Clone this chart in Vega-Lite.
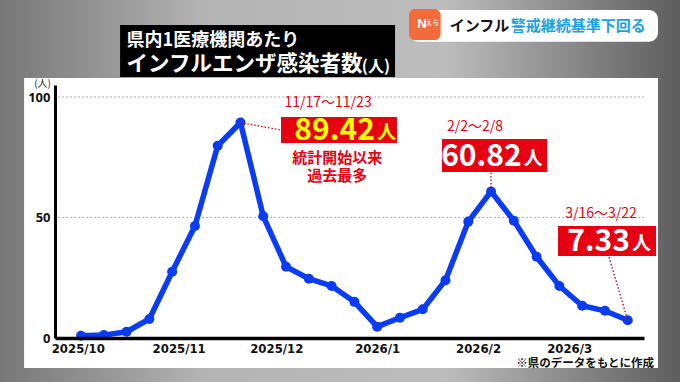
{
  "$schema": "https://vega.github.io/schema/vega-lite/v6.json",
  "autosize": {"type": "none"},
  "width": 589,
  "height": 253,
  "padding": {"left": 55, "top": 85, "right": 36, "bottom": 44},
  "background": "#9a9a9a",
  "config": {"view": {"stroke": null}, "font": "Noto Sans CJK JP"},
  "datasets": {
    "flu": [
      {"week": "9/29～10/5", "date": "2025-10-02", "value": 0.9},
      {"week": "10/6～10/12", "date": "2025-10-09", "value": 1.2},
      {"week": "10/13～10/19", "date": "2025-10-16", "value": 2.6},
      {"week": "10/20～10/26", "date": "2025-10-23", "value": 7.9},
      {"week": "10/27～11/2", "date": "2025-10-30", "value": 27.5},
      {"week": "11/3～11/9", "date": "2025-11-06", "value": 46.5},
      {"week": "11/10～11/16", "date": "2025-11-13", "value": 79.8},
      {"week": "11/17～11/23", "date": "2025-11-20", "value": 89.42},
      {"week": "11/24～11/30", "date": "2025-11-27", "value": 50.5},
      {"week": "12/1～12/7", "date": "2025-12-04", "value": 29.6},
      {"week": "12/8～12/14", "date": "2025-12-11", "value": 24.6},
      {"week": "12/15～12/21", "date": "2025-12-18", "value": 21.6},
      {"week": "12/22～12/28", "date": "2025-12-25", "value": 15.0},
      {"week": "12/29～1/4", "date": "2026-01-01", "value": 4.7},
      {"week": "1/5～1/11", "date": "2026-01-08", "value": 8.4},
      {"week": "1/12～1/18", "date": "2026-01-15", "value": 11.9},
      {"week": "1/19～1/25", "date": "2026-01-22", "value": 24.0},
      {"week": "1/26～2/1", "date": "2026-01-29", "value": 48.3},
      {"week": "2/2～2/8", "date": "2026-02-05", "value": 60.82},
      {"week": "2/9～2/15", "date": "2026-02-12", "value": 48.7},
      {"week": "2/16～2/22", "date": "2026-02-19", "value": 33.7},
      {"week": "2/23～3/1", "date": "2026-02-26", "value": 21.6},
      {"week": "3/2～3/8", "date": "2026-03-05", "value": 13.4},
      {"week": "3/9～3/15", "date": "2026-03-12", "value": 11.3},
      {"week": "3/16～3/22", "date": "2026-03-19", "value": 7.33}
    ],
    "gridlines": [{"v": 50}, {"v": 100}]
  },
  "layer": [
    {
      "data": {"values": [{}]},
      "mark": {"type": "rect", "fill": {"gradient": "linear", "x1": 0, "x2": 1, "y1": 0, "y2": 0, "stops": [{"offset": 0, "color": "#777777"}, {"offset": 0.3, "color": "#b4b4b4"}, {"offset": 0.65, "color": "#bdbdbd"}, {"offset": 1, "color": "#5c5c5c"}]}},
      "encoding": {
        "x": {"datum": {"year": 2025, "month": 9, "date": 7, "utc": true}, "type": "temporal"},
        "x2": {"datum": {"year": 2026, "month": 4, "date": 5, "utc": true}},
        "y": {"datum": 141, "type": "quantitative"},
        "y2": {"datum": -19}
      }
    },
    {
      "data": {"values": [{}]},
      "mark": {"type": "rect", "fill": "#ffffff"},
      "encoding": {
        "x": {"datum": {"year": 2025, "month": 9, "date": 14, "hours": 12, "utc": true}, "type": "temporal"},
        "x2": {"datum": {"year": 2026, "month": 3, "date": 28, "hours": 7, "utc": true}},
        "y": {"datum": 107.9, "type": "quantitative"},
        "y2": {"datum": -12.45}
      }
    },
    {
      "data": {"name": "gridlines"},
      "mark": {"type": "rule", "color": "#9a9a9a", "strokeWidth": 1, "strokeDash": [1.5, 2.5]},
      "encoding": {"y": {"field": "v", "type": "quantitative"}}
    },
    {
      "data": {"values": [{}]},
      "mark": {"type": "rect", "fill": "#000000"},
      "encoding": {
        "x": {"datum": {"year": 2025, "month": 10, "date": 14, "utc": true}, "type": "temporal"},
        "x2": {"datum": {"year": 2026, "month": 1, "date": 6, "hours": 12, "utc": true}},
        "y": {"datum": 129.9, "type": "quantitative"},
        "y2": {"datum": 108.3}
      }
    },
    {
      "data": {"values": [{}]},
      "mark": {"type": "text", "text": "県内1医療機関あたり", "color": "#ffffff", "fontSize": 18, "fontWeight": "bold", "align": "left", "baseline": "middle"},
      "encoding": {
        "x": {"datum": {"year": 2025, "month": 10, "date": 16, "utc": true}, "type": "temporal"},
        "y": {"datum": 123.3, "type": "quantitative"}
      }
    },
    {
      "data": {"values": [{}]},
      "mark": {"type": "text", "text": "インフルエンザ感染者数", "color": "#ffffff", "fontSize": 21.5, "fontWeight": "bold", "align": "left", "baseline": "middle"},
      "encoding": {
        "x": {"datum": {"year": 2025, "month": 10, "date": 16, "utc": true}, "type": "temporal"},
        "y": {"datum": 113.3, "type": "quantitative"}
      }
    },
    {
      "data": {"values": [{}]},
      "mark": {"type": "text", "text": "(人)", "color": "#ffffff", "fontSize": 16, "fontWeight": "bold", "align": "left", "baseline": "middle"},
      "encoding": {
        "x": {"datum": {"year": 2025, "month": 12, "date": 27, "hours": 7, "utc": true}, "type": "temporal"},
        "y": {"datum": 112.5, "type": "quantitative"}
      }
    },
    {
      "data": {"values": [{}]},
      "mark": {"type": "rect", "fill": "#ffffff", "cornerRadius": 9},
      "encoding": {
        "x": {"datum": {"year": 2026, "month": 1, "date": 11, "hours": 2, "utc": true}, "type": "temporal"},
        "x2": {"datum": {"year": 2026, "month": 3, "date": 28, "hours": 7, "utc": true}},
        "y": {"datum": 136.1, "type": "quantitative"},
        "y2": {"datum": 122.9}
      }
    },
    {
      "data": {"values": [{}]},
      "mark": {"type": "rect", "fill": "#f26b3a", "cornerRadius": 6},
      "encoding": {
        "x": {"datum": {"year": 2026, "month": 1, "date": 10, "hours": 19, "utc": true}, "type": "temporal"},
        "x2": {"datum": {"year": 2026, "month": 1, "date": 20, "hours": 12, "utc": true}},
        "y": {"datum": 136.5, "type": "quantitative"},
        "y2": {"datum": 123.7}
      }
    },
    {
      "data": {"values": [{}]},
      "mark": {"type": "text", "text": "N", "color": "#ffffff", "fontSize": 13, "fontWeight": "bold", "align": "center", "baseline": "middle", "font": "Liberation Sans"},
      "encoding": {
        "x": {"datum": {"year": 2026, "month": 1, "date": 14, "hours": 19, "utc": true}, "type": "temporal"},
        "y": {"datum": 130.5, "type": "quantitative"}
      }
    },
    {
      "data": {"values": [{}]},
      "mark": {"type": "text", "text": "えら", "color": "#ffffff", "fontSize": 6.5, "fontWeight": "bold", "align": "center", "baseline": "middle"},
      "encoding": {
        "x": {"datum": {"year": 2026, "month": 1, "date": 17, "hours": 22, "utc": true}, "type": "temporal"},
        "y": {"datum": 130.7, "type": "quantitative"}
      }
    },
    {
      "data": {"values": [{}]},
      "mark": {"type": "text", "text": "インフル", "color": "#111111", "fontSize": 15, "fontWeight": "bold", "align": "left", "baseline": "middle"},
      "encoding": {
        "x": {"datum": {"year": 2026, "month": 1, "date": 23, "hours": 7, "utc": true}, "type": "temporal"},
        "y": {"datum": 129.5, "type": "quantitative"}
      }
    },
    {
      "data": {"values": [{}]},
      "mark": {"type": "text", "text": "警戒継続基準下回る", "color": "#1c9fe2", "fontSize": 15, "fontWeight": "bold", "align": "left", "baseline": "middle"},
      "encoding": {
        "x": {"datum": {"year": 2026, "month": 2, "date": 11, "hours": 1, "utc": true}, "type": "temporal"},
        "y": {"datum": 129.5, "type": "quantitative"}
      }
    },
    {
      "data": {"name": "flu"},
      "mark": {"type": "line", "color": "#0a3cf5", "strokeWidth": 5.5, "point": {"filled": true, "size": 100, "color": "#0a3cf5"}},
      "encoding": {
        "x": {
          "field": "date", "type": "temporal",
          "scale": {"type": "utc", "domain": [{"year": 2025, "month": 9, "date": 24, "utc": true}, {"year": 2026, "month": 3, "date": 24, "utc": true}], "nice": false},
          "axis": {
            "title": null, "zindex": 1, "grid": false, "ticks": false,
            "values": [{"year": 2025, "month": 10, "date": 1, "utc": true}, {"year": 2025, "month": 11, "date": 1, "utc": true}, {"year": 2025, "month": 12, "date": 1, "utc": true}, {"year": 2026, "month": 1, "date": 1, "utc": true}, {"year": 2026, "month": 2, "date": 1, "utc": true}, {"year": 2026, "month": 3, "date": 1, "utc": true}],
            "labelExpr": "utcFormat(datum.value, '%Y/%-m')",
            "domainColor": "#000000", "domainWidth": 3.5,
            "labelFont": "Liberation Sans Narrow, DejaVu Sans Condensed", "labelFontSize": 13, "labelFontWeight": "bold", "labelColor": "#111111", "labelPadding": 4
          }
        },
        "y": {
          "field": "value", "type": "quantitative",
          "scale": {"domain": [0, 105], "nice": false, "zero": true},
          "axis": {
            "title": "(人)", "titleAngle": 0, "titleX": -13, "titleY": -2, "titleAlign": "center", "titleBaseline": "middle", "titleFontSize": 10, "titleFontWeight": "normal", "titleColor": "#222222",
            "zindex": 1, "grid": false, "ticks": false, "values": [0, 50, 100],
            "domainColor": "#000000", "domainWidth": 3,
            "labelFont": "Noto Sans", "labelFontSize": 13, "labelFontWeight": "bold", "labelColor": "#111111", "labelPadding": 5
          }
        }
      }
    },
    {
      "data": {"values": [{}]},
      "mark": {"type": "rule", "color": "#e60012", "strokeWidth": 1.3, "strokeDash": [1.5, 2]},
      "encoding": {
        "x": {"datum": {"year": 2025, "month": 11, "date": 20, "utc": true}, "type": "temporal"},
        "x2": {"datum": {"year": 2025, "month": 12, "date": 2, "hours": 12, "utc": true}},
        "y": {"datum": 89.42, "type": "quantitative"},
        "y2": {"datum": 86.3}
      }
    },
    {
      "data": {"values": [{}]},
      "mark": {"type": "rect", "fill": "#e60012"},
      "encoding": {
        "x": {"datum": {"year": 2025, "month": 12, "date": 2, "hours": 11, "utc": true}, "type": "temporal"},
        "x2": {"datum": {"year": 2026, "month": 1, "date": 7, "hours": 2, "utc": true}},
        "y": {"datum": 91.7, "type": "quantitative"},
        "y2": {"datum": 80.9}
      }
    },
    {
      "data": {"values": [{}]},
      "mark": {"type": "text", "text": "11/17～11/23", "color": "#e60012", "fontSize": 14, "align": "center", "baseline": "middle"},
      "encoding": {
        "x": {"datum": {"year": 2025, "month": 12, "date": 16, "hours": 22, "utc": true}, "type": "temporal"},
        "y": {"datum": 97.6, "type": "quantitative"}
      }
    },
    {
      "data": {"values": [{}]},
      "mark": {"type": "text", "text": "89.42", "color": "#ffff00", "fontSize": 30, "fontWeight": "bold", "align": "right", "baseline": "middle"},
      "encoding": {
        "x": {"datum": {"year": 2025, "month": 12, "date": 31, "hours": 7, "utc": true}, "type": "temporal"},
        "y": {"datum": 85.9, "type": "quantitative"}
      }
    },
    {
      "data": {"values": [{}]},
      "mark": {"type": "text", "text": "人", "color": "#ffff00", "fontSize": 19, "fontWeight": "bold", "align": "left", "baseline": "middle"},
      "encoding": {
        "x": {"datum": {"year": 2026, "month": 1, "date": 1, "utc": true}, "type": "temporal"},
        "y": {"datum": 85.1, "type": "quantitative"}
      }
    },
    {
      "data": {"values": [{}]},
      "mark": {"type": "text", "text": "統計開始以来", "color": "#e60012", "fontSize": 15, "fontWeight": "bold", "align": "center", "baseline": "middle"},
      "encoding": {
        "x": {"datum": {"year": 2025, "month": 12, "date": 19, "hours": 17, "utc": true}, "type": "temporal"},
        "y": {"datum": 74.6, "type": "quantitative"}
      }
    },
    {
      "data": {"values": [{}]},
      "mark": {"type": "text", "text": "過去最多", "color": "#e60012", "fontSize": 15, "fontWeight": "bold", "align": "center", "baseline": "middle"},
      "encoding": {
        "x": {"datum": {"year": 2025, "month": 12, "date": 19, "hours": 17, "utc": true}, "type": "temporal"},
        "y": {"datum": 67.2, "type": "quantitative"}
      }
    },
    {
      "data": {"values": [{}]},
      "mark": {"type": "rule", "color": "#b0002a", "strokeWidth": 1.3, "strokeDash": [1.5, 2]},
      "encoding": {
        "x": {"datum": {"year": 2026, "month": 2, "date": 5, "utc": true}, "type": "temporal"},
        "y": {"datum": 60.82, "type": "quantitative"},
        "y2": {"datum": 68.9}
      }
    },
    {
      "data": {"values": [{}]},
      "mark": {"type": "rect", "fill": "#e60012"},
      "encoding": {
        "x": {"datum": {"year": 2026, "month": 1, "date": 20, "hours": 22, "utc": true}, "type": "temporal"},
        "x2": {"datum": {"year": 2026, "month": 2, "date": 22, "hours": 5, "utc": true}},
        "y": {"datum": 82.6, "type": "quantitative"},
        "y2": {"datum": 68.9}
      }
    },
    {
      "data": {"values": [{}]},
      "mark": {"type": "text", "text": "2/2～2/8", "color": "#e60012", "fontSize": 14, "align": "center", "baseline": "middle"},
      "encoding": {
        "x": {"datum": {"year": 2026, "month": 1, "date": 31, "hours": 2, "utc": true}, "type": "temporal"},
        "y": {"datum": 87.7, "type": "quantitative"}
      }
    },
    {
      "data": {"values": [{}]},
      "mark": {"type": "text", "text": "60.82", "color": "#ffffff", "fontSize": 30, "fontWeight": "bold", "align": "right", "baseline": "middle"},
      "encoding": {
        "x": {"datum": {"year": 2026, "month": 2, "date": 14, "hours": 10, "utc": true}, "type": "temporal"},
        "y": {"datum": 75.1, "type": "quantitative"}
      }
    },
    {
      "data": {"values": [{}]},
      "mark": {"type": "text", "text": "人", "color": "#ffffff", "fontSize": 19, "fontWeight": "bold", "align": "left", "baseline": "middle"},
      "encoding": {
        "x": {"datum": {"year": 2026, "month": 2, "date": 15, "hours": 1, "utc": true}, "type": "temporal"},
        "y": {"datum": 74.3, "type": "quantitative"}
      }
    },
    {
      "data": {"values": [{}]},
      "mark": {"type": "rule", "color": "#b0002a", "strokeWidth": 1.3, "strokeDash": [1.5, 2]},
      "encoding": {
        "x": {"datum": {"year": 2026, "month": 3, "date": 13, "hours": 6, "utc": true}, "type": "temporal"},
        "x2": {"datum": {"year": 2026, "month": 3, "date": 19, "utc": true}},
        "y": {"datum": 33.6, "type": "quantitative"},
        "y2": {"datum": 7.33}
      }
    },
    {
      "data": {"values": [{}]},
      "mark": {"type": "rect", "fill": "#e60012"},
      "encoding": {
        "x": {"datum": {"year": 2026, "month": 2, "date": 25, "hours": 14, "utc": true}, "type": "temporal"},
        "x2": {"datum": {"year": 2026, "month": 3, "date": 27, "hours": 17, "utc": true}},
        "y": {"datum": 46.5, "type": "quantitative"},
        "y2": {"datum": 34.0}
      }
    },
    {
      "data": {"values": [{}]},
      "mark": {"type": "text", "text": "3/16～3/22", "color": "#e60012", "fontSize": 14, "align": "center", "baseline": "middle"},
      "encoding": {
        "x": {"datum": {"year": 2026, "month": 3, "date": 10, "hours": 19, "utc": true}, "type": "temporal"},
        "y": {"datum": 51.5, "type": "quantitative"}
      }
    },
    {
      "data": {"values": [{}]},
      "mark": {"type": "text", "text": "7.33", "color": "#ffffff", "fontSize": 30, "fontWeight": "bold", "align": "right", "baseline": "middle"},
      "encoding": {
        "x": {"datum": {"year": 2026, "month": 3, "date": 19, "hours": 17, "utc": true}, "type": "temporal"},
        "y": {"datum": 39.8, "type": "quantitative"}
      }
    },
    {
      "data": {"values": [{}]},
      "mark": {"type": "text", "text": "人", "color": "#ffffff", "fontSize": 19, "fontWeight": "bold", "align": "left", "baseline": "middle"},
      "encoding": {
        "x": {"datum": {"year": 2026, "month": 3, "date": 20, "hours": 7, "utc": true}, "type": "temporal"},
        "y": {"datum": 39.0, "type": "quantitative"}
      }
    },
    {
      "data": {"values": [{}]},
      "mark": {"type": "text", "text": "※県のデータをもとに作成", "color": "#111111", "fontSize": 11.5, "fontWeight": "bold", "align": "right", "baseline": "middle"},
      "encoding": {
        "x": {"datum": {"year": 2026, "month": 3, "date": 27, "hours": 2, "utc": true}, "type": "temporal"},
        "y": {"datum": -10.9, "type": "quantitative"}
      }
    }
  ]
}
